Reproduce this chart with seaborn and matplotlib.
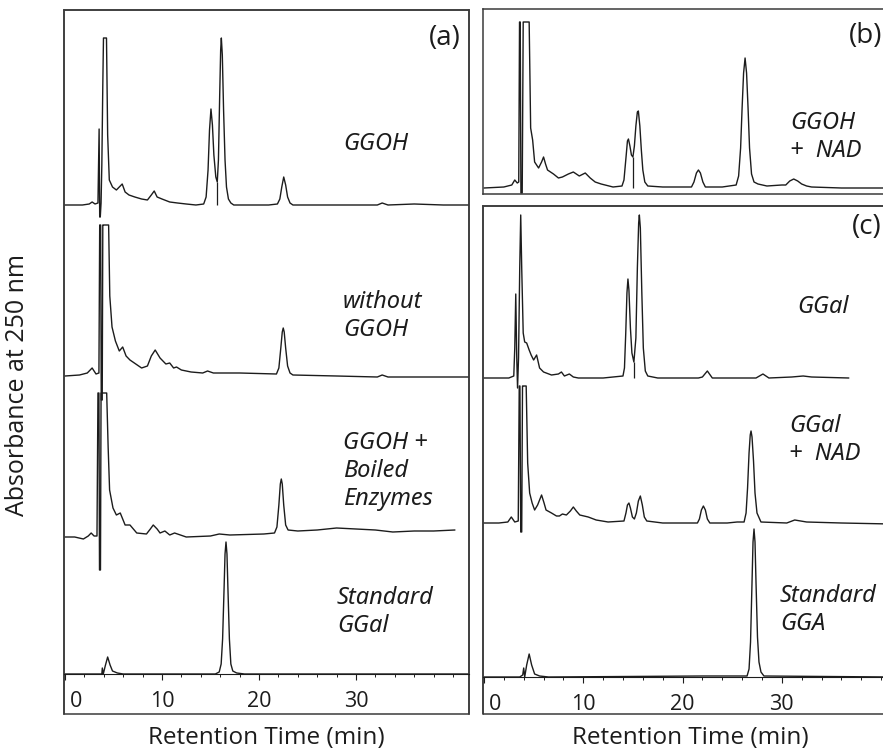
import matplotlib
matplotlib.use("Agg")
import numpy as np
import seaborn as sns
import matplotlib.pyplot as plt
from matplotlib.patches import Rectangle
from matplotlib.ticker import MultipleLocator
from matplotlib.transforms import ScaledTranslation

# ---- traces (time in min, absorbance in arbitrary units above own baseline)

# panel (a)
ggoh_t = [0, 1.8, 2.5, 2.8, 3.1, 3.4, 3.52, 3.58, 3.64, 3.72, 3.8, 3.9, 3.97, 4.28, 4.4, 4.57, 4.9, 5.3, 5.6, 5.9,
          6.2, 6.6, 7.2, 7.9, 8.5, 8.9, 9.2, 9.5, 10.0, 10.8, 11.6, 12.5, 13.5,
          14.3, 14.55, 14.75, 14.9, 15.05, 15.2, 15.35, 15.55, 15.7, 15.82, 15.95, 16.05, 16.12, 16.22, 16.35, 16.5,
          16.65, 16.85, 17.1, 17.4, 18.5, 21.0,
          21.9, 22.15, 22.35, 22.55, 22.75, 22.95, 23.2, 23.5, 27.0, 30.0, 32.2, 32.7, 33.3, 36.0, 39.0, 41.6]
ggoh_a = [0, 0, 1, 3, 1, 2, 76, -12, -12, 2, 40, 120, 167, 167, 70, 25, 18, 15, 18, 21,
          13, 10, 8, 6, 5, 10, 14, 8, 6, 3, 2, 1, 0,
          1, 8, 35, 75, 96, 80, 50, 28, 23, 45, 110, 155, 167, 150, 95, 45,
          18, 6, 2, 0, 0, 0,
          1, 6, 18, 28, 20, 8, 2, 0, 0, 0, 0, 2, 0, 1, 0, 0]

without_t = [0, 1.5, 2.3, 2.8, 3.2, 3.5, 3.58, 3.68, 3.74, 3.84, 3.9, 3.97, 4.5, 4.62, 4.85, 5.2, 5.6, 5.95, 6.3, 6.7,
             7.3, 7.9, 8.5, 8.9, 9.3, 9.8, 10.4, 10.8, 11.2, 11.5, 12.0, 13.0, 14.2, 14.7, 15.3, 18.0,
             21.8, 22.05, 22.25, 22.4, 22.5, 22.6, 22.75, 22.95, 23.2, 23.5, 28.0, 32.2, 32.7, 33.3, 36.0, 41.6]
without_a = [0, 1, 3, 8, 2, 3, 151, 151, -24, -24, 151, 151, 151, 80, 49, 35, 25, 29, 20, 16,
             12, 8, 10, 20, 26, 18, 12, 13, 8, 9, 6, 4, 3, 5, 3, 3,
             2, 8, 28, 44, 48, 44, 28, 10, 3, 1, 0, -1, 1, -1, -1, -1]

boiled_t = [0, 1.0, 1.9, 2.4, 2.7, 3.0, 3.3, 3.4, 3.5, 3.56, 3.66, 3.72, 3.85, 4.3, 4.45, 4.6, 4.95, 5.3, 5.7, 5.95,
            6.2, 6.7, 7.4, 8.4, 8.8, 9.1, 9.5, 9.8, 10.3, 10.8, 11.3, 12.5, 15.0, 15.9, 17.0, 20.5,
            21.6, 21.85, 22.05, 22.2, 22.3, 22.4, 22.55, 22.75, 23.0, 24.0, 26.0, 28.0, 30.0, 32.0, 33.8, 36.0,
            38.0, 40.2]
boiled_a = [0, 0, -2, 1, 4, 1, 1, 144, 144, -33, -33, 144, 144, 144, 90, 47, 29, 22, 24, 18,
            12, 12, 4, 3, 8, 12, 8, 4, 6, 2, 4, 0, 1, 3, 2, 3,
            4, 10, 32, 53, 58, 53, 32, 12, 7, 6, 7, 9, 8, 7, 5, 6,
            6, 7]

std_ggal_t = [0, 3.5, 3.8, 3.85, 3.95, 4.15, 4.4, 4.65, 4.9, 5.4, 6.0, 15.5, 15.9, 16.1, 16.25, 16.4, 16.5, 16.6,
              16.7, 16.8, 16.95, 17.1, 17.3, 17.7, 18.5, 41.6]
std_ggal_a = [0, 0, 0, 6, 0, 8, 17, 9, 3, 1, 0, 0, 2, 10, 35, 85, 120, 132,
              120, 85, 35, 10, 3, 1, 0, 0]

# panel (b)
nad_t = [0, 2.0, 2.8, 3.1, 3.35, 3.5, 3.58, 3.65, 3.72, 3.85, 3.95, 4.0, 4.55, 4.7, 4.9, 5.1, 5.5, 5.8, 6.0, 6.2,
         6.4, 7.0, 7.5, 7.9, 8.5, 9.0, 9.6, 10.2, 10.7, 11.2, 11.8, 13.0,
         13.9, 14.1, 14.3, 14.45, 14.55, 14.7, 14.85, 15.0, 15.15, 15.3, 15.45, 15.55, 15.7, 15.85, 16.0, 16.2,
         16.5, 18.0, 20.6,
         20.9, 21.15, 21.4, 21.6, 21.8, 22.05, 22.3, 24.0,
         25.4, 25.65, 25.85, 26.0, 26.15, 26.3, 26.45, 26.6, 26.75, 26.95, 27.2, 27.6, 28.5,
         30.0, 30.4, 30.8, 31.2, 31.6, 32.0, 32.5, 33.0, 36.0, 41.0]
nad_a = [0, 1, 3, 8, 5, 6, 166, 166, -5, -5, 166, 166, 166, 60, 48, 26, 20, 26, 31, 24,
         18, 14, 10, 11, 14, 16, 12, 15, 10, 6, 4, 1,
         2, 8, 30, 47, 49, 42, 33, 31, 42, 62, 76, 77, 62, 38, 18, 6,
         2, 1, 1,
         1, 6, 15, 18, 15, 6, 1, 1,
         3, 12, 40, 80, 115, 130, 115, 80, 40, 14, 6, 4, 2,
         3, 3, 7, 9, 7, 4, 2, 1, 0, 0]

# panel (c)
ggal_t = [0, 2.5, 3.0, 3.1, 3.2, 3.3, 3.38, 3.48, 3.6, 3.7, 3.8, 3.95, 4.1, 4.3, 4.55, 4.75, 5.0, 5.3, 5.6, 6.0,
          6.8, 7.5, 7.8, 8.1, 8.6, 9.0, 9.5, 12.0,
          14.0, 14.15, 14.28, 14.4, 14.5, 14.6, 14.75, 14.9, 15.1, 15.3, 15.45, 15.58, 15.65, 15.75, 15.9, 16.05,
          16.25, 16.5, 17.5,
          21.6, 22.0, 22.5, 23.0, 27.4, 28.1, 28.7, 31.0, 32.15, 33.0, 36.75]
ggal_a = [0, 0, 2, 30, 84, 20, -10, 20, 110, 163, 110, 45, 36, 35, 28, 23, 18, 23, 10, 6,
          3, 4, 6, 2, 4, 1, 0, 0,
          2, 10, 45, 85, 99, 88, 50, 25, 16, 40, 110, 155, 163, 150, 85, 30,
          7, 2, 0,
          0, 1, 7, 0, 0, 4, 0, 1, 2, 1, 0]

ggal_nad_t = [0, 1.5, 2.4, 2.75, 3.1, 3.45, 3.55, 3.62, 3.7, 3.8, 3.88, 3.95, 4.25, 4.4, 4.6, 4.85, 5.1, 5.4, 5.8,
              6.05, 6.25, 6.8, 7.3, 7.6, 7.9, 8.3, 8.7, 9.0, 9.3, 9.65, 10.5, 11.3, 12.5,
              14.1, 14.3, 14.45, 14.6, 14.75, 14.95, 15.15, 15.35, 15.55, 15.75, 15.95, 16.15, 16.4, 18.0,
              21.5, 21.7, 21.9, 22.1, 22.3, 22.5, 22.75, 24.5, 25.5,
              26.2, 26.4, 26.55, 26.7, 26.82, 26.9, 27.0, 27.15, 27.3, 27.5, 27.9, 30.5, 31.3, 32.5, 36.0, 41.0]
ggal_nad_a = [0, 0, 1, 6, 1, 2, 137, 137, -9, -9, 137, 137, 137, 60, 30, 20, 13, 18, 28,
              20, 13, 10, 7, 7, 9, 8, 12, 16, 12, 8, 6, 3, 1,
              2, 10, 18, 20, 15, 6, 4, 10, 22, 27, 18, 6, 2, 0,
              0, 4, 13, 17, 13, 4, 0, 0, 1,
              1, 10, 35, 70, 88, 92, 86, 62, 30, 10, 1, 0, 3, 1, 0, -1]

std_gga_t = [0, 3.6, 3.9, 4.0, 4.1, 4.3, 4.55, 4.8, 5.1, 5.6, 6.5, 22.0, 26.5, 26.7, 26.85, 27.0, 27.1, 27.2, 27.3,
             27.4, 27.55, 27.7, 27.9, 28.2, 41.0]
std_gga_a = [0, 0, 2, 9, 0, 12, 23, 12, 3, 1, 0, 1, 1, 8, 35, 95, 135, 148, 135,
             95, 40, 15, 5, 1, 0]

# integration drop lines (time, height of valley)
drop_ggoh = (15.7, 23)
drop_nad = (15.0, 31)
drop_ggal = (15.1, 16)

labels_a = ["GGOH", "without\nGGOH", "GGOH +\nBoiled\nEnzymes", "Standard\nGGal"]
labels_b = ["GGOH\n+  NAD"]
labels_c = ["GGal", "GGal\n+  NAD", "Standard\nGGA"]
x_ticks = [0, 10, 20, 30]

# ---- layout (pixels of the 883x750 canvas)
W, H = 883, 750
LINE = "#1c1c1c"
FRAME = "#3a3a3a"

sns.set_style("white")
plt.rcParams["font.family"] = ["Open Sans", "DejaVu Sans"]

fig = plt.figure(figsize=(W / 100, H / 100), dpi=100)


def box(left, top, right, bottom):
    return [left / W, 1 - bottom / H, (right - left) / W, (bottom - top) / H]


def draw(ax, t, a, offset):
    sns.lineplot(x=t, y=np.array(a) + offset, ax=ax, sort=False, estimator=None,
                 color=LINE, lw=1.0)


def frame(ax, xlim, ylim, axis_at=None):
    ax.set_xlim(*xlim)
    ax.set_ylim(*ylim)
    ax.set_yticks([])
    ax.set_ylabel("")
    ax.set_xlabel("")
    for s in ax.spines.values():
        s.set_color(FRAME)
        s.set_linewidth(1.1)
        s.set_visible(True)
    if axis_at is None:
        ax.set_xticks([])
        return
    # x axis sits on the baseline of the lowest trace, box drawn separately
    ax.spines["bottom"].set_position(("data", axis_at))
    ax.spines["bottom"].set_color(LINE)
    ax.spines["bottom"].set_linewidth(0.8)
    ax.add_patch(Rectangle((0, 0), 1, 1, transform=ax.transAxes, fill=False,
                           ec=FRAME, lw=1.1, clip_on=False))
    ax.set_xticks(x_ticks)
    ax.set_xticklabels([str(v) for v in x_ticks])
    ax.xaxis.set_minor_locator(MultipleLocator(2))
    ax.tick_params(axis="x", which="major", direction="out", length=4, width=0.8,
                   pad=8, labelsize=15.5, colors=LINE, bottom=True)
    ax.tick_params(axis="x", which="minor", direction="out", length=2.5, width=0.7,
                   bottom=True, colors=LINE)
    first = ax.get_xticklabels()[0]
    first.set_transform(first.get_transform() + ScaledTranslation(0.11, 0, fig.dpi_scale_trans))


ax_a = fig.add_axes(box(64, 10, 469, 714))
ax_b = fig.add_axes(box(483, 9, 892, 194))
ax_c = fig.add_axes(box(483, 206, 892, 714))

# panel (a)
offs_a = [509, 338, 177, 40]
for (t, a), off in zip([(ggoh_t, ggoh_a), (without_t, without_a), (boiled_t, boiled_a),
                        (std_ggal_t, std_ggal_a)], offs_a):
    draw(ax_a, t, a, off)
ax_a.vlines(drop_ggoh[0], offs_a[0], offs_a[0] + drop_ggoh[1], color=LINE, lw=0.9)
frame(ax_a, (-0.1, 41.65), (0, 704), axis_at=offs_a[-1])

# panel (b)
off_b = 6
draw(ax_b, nad_t, nad_a, off_b)
ax_b.vlines(drop_nad[0], off_b, off_b + drop_nad[1], color=LINE, lw=0.9)
frame(ax_b, (-0.1, 41.1), (0, 185))

# panel (c)
offs_c = [336, 191, 37]
for (t, a), off in zip([(ggal_t, ggal_a), (ggal_nad_t, ggal_nad_a), (std_gga_t, std_gga_a)], offs_c):
    draw(ax_c, t, a, off)
ax_c.vlines(drop_ggal[0], offs_c[0], offs_c[0] + drop_ggal[1], color=LINE, lw=0.9)
frame(ax_c, (-0.1, 41.1), (0, 508), axis_at=offs_c[-1])


def ftext(x, y, s, **kw):
    fig.text(x / W, 1 - y / H, s, color=LINE, **kw)


# panel letters
ftext(461, 38, "(a)", fontsize=20, ha="right", va="center")
ftext(882, 36, "(b)", fontsize=20, ha="right", va="center")
ftext(882, 227, "(c)", fontsize=20, ha="right", va="center")

# trace labels
lab = dict(fontsize=17, style="italic", ha="left", va="center", linespacing=1.2,
           family=["Noto Sans", "DejaVu Sans"])
for s, (x, y) in zip(labels_a, [(343, 144), (343, 316), (343, 471), (337, 612)]):
    ftext(x, y, s, **lab)
for s, (x, y) in zip(labels_b, [(790, 137)]):
    ftext(x, y, s, **lab)
for s, (x, y) in zip(labels_c, [(797, 307), (789, 440), (780, 610)]):
    ftext(x, y, s, **lab)

# axis titles
ftext(266, 738, "Retention Time (min)", fontsize=17.5, ha="center", va="center")
ftext(690, 738, "Retention Time (min)", fontsize=17.5, ha="center", va="center")
ftext(18, 385, "Absorbance at 250 nm", fontsize=18, ha="center", va="center", rotation=90)

fig.savefig("out.png", dpi=100)
